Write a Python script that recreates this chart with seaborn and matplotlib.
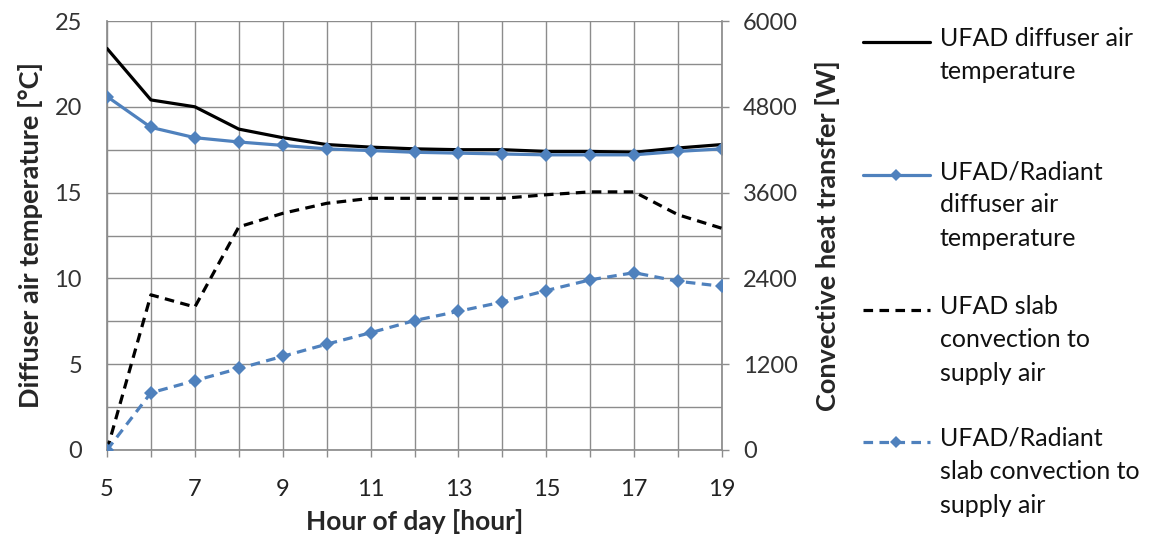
import matplotlib
matplotlib.use("Agg")
import matplotlib.pyplot as plt
from matplotlib.lines import Line2D
import seaborn as sns
import pandas as pd

hours = [5, 6, 7, 8, 9, 10, 11, 12, 13, 14, 15, 16, 17, 18, 19]
ufad_diffuser = [23.4, 20.4, 20.0, 18.7, 18.2, 17.8, 17.65, 17.55, 17.5, 17.5, 17.4, 17.4, 17.35, 17.6, 17.8]
radiant_diffuser = [20.6, 18.8, 18.2, 17.95, 17.75, 17.55, 17.45, 17.35, 17.3, 17.25, 17.2, 17.2, 17.2, 17.4, 17.55]
ufad_slab = [0, 2170, 2000, 3120, 3310, 3450, 3520, 3520, 3520, 3520, 3570, 3610, 3610, 3290, 3100]
radiant_slab = [0, 800, 970, 1140, 1310, 1480, 1640, 1810, 1940, 2070, 2230, 2380, 2480, 2360, 2290]

labels = ["UFAD diffuser air\ntemperature",
          "UFAD/Radiant\ndiffuser air\ntemperature",
          "UFAD slab\nconvection to\nsupply air",
          "UFAD/Radiant\nslab convection to\nsupply air"]

sns.set_theme(style="white")
plt.rcParams['font.family'] = ['Lato', 'DejaVu Sans']

BLUE = "#4F81BD"
W, H = 1162, 542
fig = plt.figure(figsize=(W / 100, H / 100), dpi=100)
ax = fig.add_axes([107 / W, (H - 450) / H, (722 - 107) / W, (450 - 21) / H])
ax2 = ax.twinx()

df = pd.DataFrame({"hour": hours, "a": ufad_diffuser, "b": radiant_diffuser,
                   "c": ufad_slab, "d": radiant_slab})

sns.lineplot(data=df, x="hour", y="a", ax=ax, color="black", linewidth=2.3, zorder=3)
sns.lineplot(data=df, x="hour", y="b", ax=ax, color=BLUE, linewidth=2.3,
             marker="D", markersize=7, markeredgewidth=0, zorder=3)
sns.lineplot(data=df, x="hour", y="c", ax=ax2, color="black", linewidth=2.3,
             linestyle=(0, (3, 2)), zorder=3)
sns.lineplot(data=df, x="hour", y="d", ax=ax2, color=BLUE, linewidth=2.3,
             linestyle=(0, (3, 2)), marker="D", markersize=7, markeredgewidth=0, zorder=3)

ax.set_xlim(5, 19)
ax.set_ylim(0, 25)
ax2.set_ylim(0, 6000)
ax.set_yticks([0, 5, 10, 15, 20, 25])
ax.set_yticks([2.5, 7.5, 12.5, 17.5, 22.5], minor=True)
ax2.set_yticks([0, 1200, 2400, 3600, 4800, 6000])
ax.set_xticks(list(range(5, 20, 2)))
ax.set_xticks(list(range(6, 19, 2)), minor=True)

grid_kw = dict(color="#8c8c8c", linewidth=1.0)
ax.grid(True, which="both", axis="both", **grid_kw)
ax.set_axisbelow(True)
ax2.grid(False)

for a in (ax, ax2):
    for s in a.spines.values():
        s.set_visible(False)
ax.spines["bottom"].set_visible(True)
ax.spines["bottom"].set_color("#8c8c8c")
ax.spines["left"].set_visible(True)
ax.spines["left"].set_color("#8c8c8c")
ax2.spines["right"].set_visible(True)
ax2.spines["right"].set_color("#8c8c8c")

tick_font = 17
ax.tick_params(axis="x", which="both", bottom=True, length=5, width=1, color="#8c8c8c",
               labelsize=tick_font, pad=16, labelcolor="#222222")
ax.tick_params(axis="y", which="both", left=False, labelsize=tick_font, pad=12,
               labelcolor="#333333")
ax2.tick_params(axis="y", right=True, length=5, width=1, color="#8c8c8c",
                labelsize=tick_font, pad=10, labelcolor="#333333")

ax.set_xlabel("Hour of day [hour]", fontsize=19, fontweight="bold", labelpad=6)
ax.set_ylabel("Diffuser air temperature [°C]", fontsize=19.5, fontweight="bold", labelpad=8)
ax2.set_ylabel("Convective heat transfer [W]", fontsize=19.5, fontweight="bold", labelpad=12)

# Legend (manual layout)
styles = [dict(color="black", linestyle="-", marker=None),
          dict(color=BLUE, linestyle="-", marker="D"),
          dict(color="black", linestyle=(0, (3, 2)), marker=None),
          dict(color=BLUE, linestyle=(0, (3, 2)), marker="D")]
first_y = [42, 175, 310, 442]
for lab, st, yy in zip(labels, styles, first_y):
    yf = 1 - yy / H
    fig.add_artist(Line2D([863 / W, 930 / W], [yf, yf], transform=fig.transFigure,
                          color=st["color"], linestyle=st["linestyle"], linewidth=2.3))
    if st["marker"]:
        fig.add_artist(Line2D([896.5 / W], [yf], transform=fig.transFigure,
                              color=st["color"], marker="D", markersize=6,
                              markeredgewidth=0, linestyle="none"))
    fig.text(940 / W, yf + 15 / H, lab, fontsize=18, ha="left", va="top",
             linespacing=1.55, color="#111111", transform=fig.transFigure)

fig.savefig("out.png", dpi=100)
